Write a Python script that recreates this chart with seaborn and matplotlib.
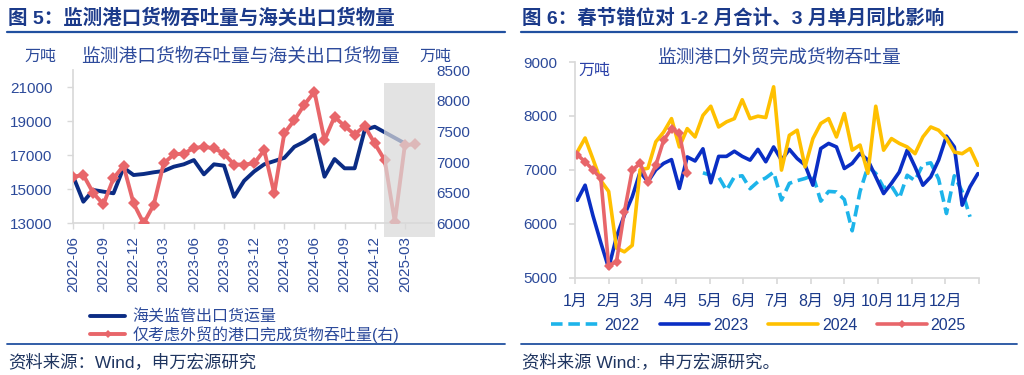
import numpy as np
import pandas as pd
import matplotlib
matplotlib.use("Agg")
import matplotlib.pyplot as plt
from matplotlib.lines import Line2D
import seaborn as sns

# ---------------- data: left chart (monthly 2022-06 .. 2025-04) ----------------
months = pd.period_range("2022-06", "2025-04", freq="M").strftime("%Y-%m").tolist()
customs_export = [15740, 14270, 14960, 14860, 14765, 16270, 15840,
                  15900, 16000, 16080, 16330, 16470, 16720, 15880, 16470, 16390, 14560, 15500, 16050,
                  16470, 16660, 16850, 17500, 17800, 18200, 15740, 16780, 16235, 16235, 18490, 18680,
                  18350, np.nan, 17700, np.nan]
port_foreign = [6760, 6790, 6490, 6310, 6735, 6940, 6325,
                6000, 6300, 6980, 7125, 7140, 7230, 7250, 7225, 7140, 6960, 6960, 6980,
                7195, 6490, 7470, 7685, 7940, 8150, 7360, 7740, 7590, 7450, 7590, 7305,
                7030, 6025, 7280, 7290]
left_tick_labels = ["2022-06", "2022-09", "2022-12", "2023-03", "2023-06", "2023-09",
                    "2023-12", "2024-03", "2024-06", "2024-09", "2024-12", "2025-03"]
left_label_customs = "海关监管出口货运量"
left_label_port = "仅考虑外贸的港口完成货物吞吐量(右)"

# ---------------- data: right chart (weekly) ----------------
month_labels = ["1月", "2月", "3月", "4月", "5月", "6月", "7月", "8月", "9月", "10月", "11月", "12月"]
start_week_2022 = 16
port_2022 = [6945, 6900, 6870, 6620, 6870, 6890, 6650, 6780, 6850, 6960, 6440, 6750,
             6800, 6840, 6900, 6420, 6600, 6590, 6450, 5870, 6600, 7060, 6935, 6670,
             6700, 6470, 6900, 6800, 7100, 7130, 6830, 6190, 6890, 6600, 6130]
port_2023 = [6435, 6715, 6150, 5650, 5180, 5760, 6160, 6500, 6960, 6780,
             7000, 7120, 7190, 6655, 7240, 7165, 7390, 6760, 7250, 7250,
             7345, 7250, 7180, 7380, 7150, 7425, 7180, 7380, 7210, 7090,
             6715, 7395, 7490, 7425, 7025, 7120, 7305, 7180, 6870, 6560,
             6750, 6960, 7365, 7055, 6715, 6870, 7180, 7625, 7425, 6345,
             6685, 6930]
port_2024 = [7330, 7590, 7200, 6800, 6600, 5550, 5480, 5600, 7000, 7030,
             7520, 7700, 7950, 7425, 7765, 7610, 8010, 8180, 7795, 7890,
             7950, 8300, 7950, 7995, 7970, 8540, 6995, 7640, 7735, 7055,
             7580, 7860, 7950, 7610, 8045, 7365, 7460, 6935, 8180, 7365,
             7580, 7490, 7425, 7300, 7610, 7795, 7735, 7580, 7330, 7300,
             7395, 7085]
port_2025 = [7280, 7150, 7000, 6840, 5220, 5300, 6220, 6995, 7120, 6780,
             7085, 7550, 7765, 7675, 6935]

# ---------------- style ----------------
NAVY = "#0B2C84"
RED = "#E8666A"
C2022 = "#1DB4EA"
C2023 = "#0A2EC4"
C2024 = "#FFC000"
TICK = "#2C4A9A"
HEAD = "#1B3A8A"
AXIS = "#D9D9D9"

sns.set_theme(style="white")
plt.rcParams['font.family'] = ['Liberation Sans', 'Noto Sans CJK SC']
plt.rcParams['axes.unicode_minus'] = False

W, H = 1024, 375
fig = plt.figure(figsize=(W / 100, H / 100), dpi=100)
fig.patch.set_facecolor("white")


def fx(px):
    return px / W


def fy(py):
    return 1 - py / H


# ================= left chart =================
ax1 = fig.add_axes([fx(73.3), fy(223.3), fx(432 - 73.3), 153 / H])
ax2 = ax1.twinx()

df_left = pd.DataFrame({"idx": np.arange(len(months)), "month": months,
                        "customs": customs_export, "port": port_foreign})

sns.lineplot(data=df_left.dropna(subset=["customs"]), x="idx", y="customs", ax=ax1,
             color=NAVY, lw=2.8, legend=False)
sns.lineplot(data=df_left, x="idx", y="port", ax=ax2, color=RED, lw=2.8,
             marker="D", markersize=6, markeredgewidth=0, legend=False)

ax1.set_xlim(0, 35.7)
ax1.set_ylim(13000, 22000)
ax1.set_yticks(np.arange(13000, 21001, 2000))
ax2.set_ylim(6000, 8500)
ax2.set_yticks(np.arange(6000, 8501, 500))
ax1.set_xticks([months.index(m) for m in left_tick_labels])
ax1.set_xticklabels(left_tick_labels, rotation=90)
for a in (ax1, ax2):
    a.set_xlabel("")
    a.set_ylabel("")
    a.grid(False)
    for s in a.spines.values():
        s.set_visible(False)
ax1.spines["left"].set_visible(True)
ax1.spines["bottom"].set_visible(True)
ax1.spines["left"].set_color(AXIS)
ax1.spines["bottom"].set_color(AXIS)
ax1.tick_params(axis="y", length=4, width=1, color=AXIS, pad=11, labelcolor=TICK, labelsize=11, left=True)
ax1.tick_params(axis="x", length=4, width=1, color=AXIS, pad=5, labelcolor=TICK, labelsize=11, bottom=True)
ax2.tick_params(axis="y", length=0, pad=3, labelcolor=TICK, labelsize=11, right=True)

# shaded (preliminary) region
ax2.axvspan(30.9, 36.0, ymin=-0.09, ymax=0.917, facecolor="#d9d9d9", alpha=0.72,
            edgecolor="none", zorder=10, clip_on=False)

fig.text(fx(40), fy(56), "万吨", ha="center", va="center", color=TICK, fontsize=11.5)
fig.text(fx(435), fy(56), "万吨", ha="center", va="center", color=TICK, fontsize=11.5)
fig.text(fx(241), fy(57), "监测港口货物吞吐量与海关出口货物量", ha="center", va="center",
         color="#2E4B9C", fontsize=13.5)

h1 = Line2D([], [], color=NAVY, lw=2.8)
h2 = Line2D([], [], color=RED, lw=2.8, marker="D", markersize=4, markeredgewidth=0)
fig.legend([h1, h2], [left_label_customs, left_label_port], loc="upper left",
           bbox_to_anchor=(fx(82), fy(302)), frameon=False, fontsize=11.5,
           handlelength=2.2, handletextpad=0.45, labelspacing=0.05, borderpad=0,
           labelcolor=TICK)

# ================= right chart =================
ax3 = fig.add_axes([fx(575), fy(277.7), fx(979 - 575), (277.7 - 62) / H])


def week_frame(values, year, start=0):
    w = np.arange(start, start + len(values))
    return pd.DataFrame({"day": 7 * w + 2, "value": values, "year": year})


sns.lineplot(data=week_frame(port_2022, "2022", start_week_2022), x="day", y="value", ax=ax3,
             color=C2022, lw=2.6, linestyle=(0, (3.2, 1.6)), legend=False)
sns.lineplot(data=week_frame(port_2023, "2023"), x="day", y="value", ax=ax3,
             color=C2023, lw=2.6, legend=False)
sns.lineplot(data=week_frame(port_2024, "2024"), x="day", y="value", ax=ax3,
             color=C2024, lw=2.6, legend=False)
sns.lineplot(data=week_frame(port_2025, "2025"), x="day", y="value", ax=ax3,
             color=RED, lw=2.6, marker="D", markersize=5, markeredgewidth=0, legend=False)

ax3.set_xlim(0, 360)
ax3.set_ylim(5000, 9000)
ax3.set_yticks(np.arange(5000, 9001, 1000))
ax3.set_xticks(np.arange(0, 361, 30))
ax3.set_xticklabels(month_labels + [""])
ax3.set_xlabel("")
ax3.set_ylabel("")
ax3.grid(False)
for k, s in ax3.spines.items():
    s.set_visible(k in ("left", "bottom"))
    s.set_color(AXIS)
ax3.tick_params(axis="y", length=4, color=AXIS, pad=9, labelcolor=TICK, labelsize=11, left=True)
ax3.tick_params(axis="x", length=4, color=AXIS, pad=8, labelcolor=HEAD, labelsize=11.5, bottom=True)

fig.text(fx(578), fy(70), "万吨", ha="left", va="center", color="#2A40A8", fontsize=11.5)
fig.text(fx(779), fy(58), "监测港口外贸完成货物吞吐量", ha="center", va="center",
         color="#2E4B9C", fontsize=13.5)

hs = [Line2D([], [], color=C2022, lw=2.6, linestyle=(0, (3.2, 1.6))),
      Line2D([], [], color=C2023, lw=2.6),
      Line2D([], [], color=C2024, lw=2.6),
      Line2D([], [], color=RED, lw=2.6, marker="D", markersize=4, markeredgewidth=0)]
fig.legend(hs, ["2022", "2023", "2024", "2025"], loc="center left",
           bbox_to_anchor=(fx(543), fy(325)), frameon=False, ncol=4, fontsize=11.5,
           handlelength=3.1, handletextpad=0.25, columnspacing=1.25, borderpad=0,
           labelcolor=HEAD)

# ================= headers / footers =================
fig.text(fx(8), fy(18), "图 5：监测港口货物吞吐量与海关出口货物量", ha="left", va="center",
         color=HEAD, fontsize=14, fontweight="bold")
fig.text(fx(522), fy(18), "图 6：春节错位对 1-2 月合计、3 月单月同比影响", ha="left", va="center",
         color=HEAD, fontsize=14, fontweight="bold")
for x0, x1 in ((7, 505), (521, 1017)):
    fig.add_artist(Line2D([fx(x0), fx(x1)], [fy(31.5), fy(31.5)], color="#2150A0", lw=1.6))
    fig.add_artist(Line2D([fx(x0), fx(x1)], [fy(343.5), fy(343.5)], color="#2150A0", lw=1.3))
fig.text(fx(8), fy(362), "资料来源：Wind，申万宏源研究", ha="left", va="center",
         color="#1F3560", fontsize=12.5)
fig.text(fx(522), fy(362), "资料来源 Wind:，申万宏源研究。", ha="left", va="center",
         color="#1F3560", fontsize=12.5)

fig.savefig("out.png", dpi=100, facecolor="white")
